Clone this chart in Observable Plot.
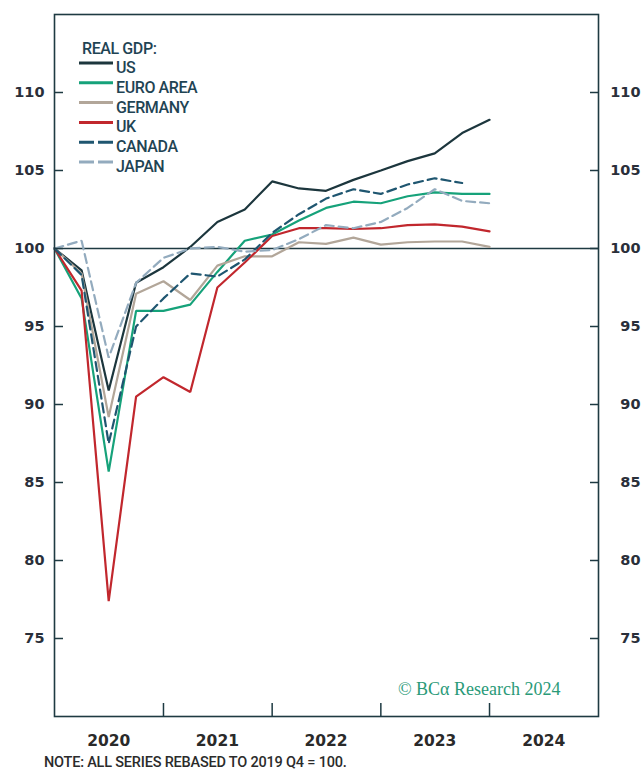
<!DOCTYPE html>
<html>
<head>
<meta charset="utf-8">
<script src="https://cdn.jsdelivr.net/npm/d3@7"></script>
<script src="https://cdn.jsdelivr.net/npm/@observablehq/plot@0.6"></script>
<style>
  html, body { margin: 0; padding: 0; background: #fff; }
  #chart { width: 642px; position: relative; }
  #note { font-family: Roboto, "Noto Sans", sans-serif; font-size: 14.5px; color: #2b2b2b; margin-left: 44px; margin-top: 2px; letter-spacing: -0.2px; font-weight: 500; }
</style>
</head>
<body>
<div id="chart"></div>
<div id="note">NOTE: ALL SERIES REBASED TO 2019 Q4 = 100.</div>
<script>
const quarters = ["2019Q4","2020Q1","2020Q2","2020Q3","2020Q4","2021Q1","2021Q2","2021Q3","2021Q4","2022Q1","2022Q2","2022Q3","2022Q4","2023Q1","2023Q2","2023Q3","2023Q4"];
const us      = [100, 98.6, 90.9, 97.8, 98.8, 100.1, 101.7, 102.5, 104.3, 103.85, 103.7, 104.4, 105.0, 105.6, 106.1, 107.4, 108.25];
const euroArea= [100, 96.8, 85.7, 96.0, 96.0, 96.4, 98.5, 100.5, 100.9, 101.8, 102.6, 103.0, 102.9, 103.35, 103.6, 103.5, 103.5];
const germany = [100, 98.4, 89.2, 97.1, 97.9, 96.7, 98.9, 99.5, 99.5, 100.4, 100.3, 100.7, 100.25, 100.4, 100.45, 100.45, 100.1];
const uk      = [100, 97.3, 77.4, 90.5, 91.75, 90.8, 97.5, 99.1, 100.8, 101.3, 101.3, 101.25, 101.3, 101.5, 101.55, 101.4, 101.1];
const canada  = [100, 98.3, 87.5, 95.0, 96.8, 98.4, 98.2, 99.3, 101.0, 102.2, 103.2, 103.8, 103.5, 104.1, 104.5, 104.2, null];
const japan   = [100, 100.5, 93.0, 97.8, 99.4, 100.0, 100.1, 99.8, 99.9, 100.6, 101.5, 101.3, 101.7, 102.6, 103.8, 103.05, 102.9];

const seriesNames = ["US", "EURO AREA", "GERMANY", "UK", "CANADA", "JAPAN"];
const seriesValues = [us, euroArea, germany, uk, canada, japan];
const seriesColors = ["#1c363d", "#16a27a", "#b2a699", "#c1272d", "#1f5670", "#93abbe"];
const seriesDashed = [false, false, false, false, true, true];

const yearLabels = ["2020", "2021", "2022", "2023", "2024"];
const yTicks = [75, 80, 85, 90, 95, 100, 105, 110];
const yDomain = [70, 115];

// quarter end date (start of next quarter)
function quarterEnd(q) {
  const y = +q.slice(0, 4), n = +q.slice(5);
  return new Date(Date.UTC(y, n * 3, 1));
}
const dates = quarters.map(quarterEnd);
const yearMid = yearLabels.map(y => new Date(Date.UTC(+y, 6, 1)));
const yearBounds = yearLabels.slice(1).map(y => new Date(Date.UTC(+y, 0, 1)));
const xDomain = [new Date(Date.UTC(+yearLabels[0], 0, 1)), new Date(Date.UTC(+yearLabels[yearLabels.length - 1] + 1, 0, 1))];

const frameColor = "#1e3a42";
const tickFont = "'DejaVu Sans', sans-serif";

const lineMarks = seriesNames.map((name, i) => {
  const rows = dates.map((d, j) => ({date: d, value: seriesValues[i][j]})).filter(r => r.value != null);
  return Plot.line(rows, {
    x: "date", y: "value",
    stroke: seriesColors[i],
    strokeWidth: 2.2,
    strokeDasharray: seriesDashed[i] ? "9,5" : null,
    strokeLinejoin: "miter"
  });
});

const plot = Plot.plot({
  width: 642,
  height: 752,
  marginLeft: 54,
  marginRight: 44,
  marginTop: 14,
  marginBottom: 36,
  style: {fontFamily: tickFont, background: "#fff"},
  x: {type: "utc", domain: xDomain, label: null},
  y: {domain: yDomain, label: null},
  marks: [
    Plot.ruleY([100], {stroke: frameColor, strokeWidth: 1.3}),
    ...lineMarks,
    // inward ticks
    Plot.axisY(yTicks, {anchor: "left", tickSize: -9, text: null, stroke: frameColor, strokeWidth: 1.5, label: null}),
    Plot.axisY(yTicks, {anchor: "right", tickSize: -9, text: null, stroke: frameColor, strokeWidth: 1.5, label: null}),
    Plot.axisY(yTicks, {anchor: "left", tickSize: 0, tickPadding: 10, fontSize: 14.5, fontWeight: 700, fill: "#2a2f3a", label: null}),
    Plot.axisY(yTicks, {anchor: "right", tickSize: 0, tickPadding: 42, textAnchor: "end", fontSize: 14.5, fontWeight: 700, fill: "#2a2f3a", label: null}),
    Plot.axisX(yearBounds, {anchor: "bottom", tickSize: -13, text: null, stroke: frameColor, strokeWidth: 1.5, label: null}),
    Plot.axisX(yearMid, {anchor: "bottom", tickSize: 0, tickPadding: 18, tickFormat: d => String(d.getUTCFullYear()), fontSize: 15.5, fontWeight: 700, fill: "#2a2a2a", label: null}),
    Plot.frame({stroke: frameColor, strokeWidth: 1.6}),
    Plot.text(["© BCα Research 2024"], {frameAnchor: "bottom-right", dx: -38, dy: -22, textAnchor: "end", fill: "#2a9a78", fontSize: 18, fontFamily: "'Liberation Serif', 'DejaVu Serif', serif"})
  ]
});

document.getElementById("chart").appendChild(plot);

// legend
const svg = d3.select(plot);
const lg = svg.append("g")
  .attr("font-family", "Roboto, 'Noto Sans', sans-serif")
  .attr("font-size", 16)
  .attr("font-weight", 500)
  .attr("text-anchor", "start")
  .attr("fill", "#1f4454")
  .attr("letter-spacing", "-0.4");
lg.append("text").attr("x", 82).attr("y", 54).text("REAL GDP:");
seriesNames.forEach((name, i) => {
  const cy = 67 + i * 19.8;
  lg.append("line").attr("x1", 79).attr("x2", 113).attr("y1", cy - 4).attr("y2", cy - 4)
    .attr("stroke", seriesColors[i]).attr("stroke-width", 3)
    .attr("stroke-dasharray", seriesDashed[i] ? "15,4" : null);
  lg.append("text").attr("x", 116).attr("y", cy + 6).text(name);
});
</script>
</body>
</html>
